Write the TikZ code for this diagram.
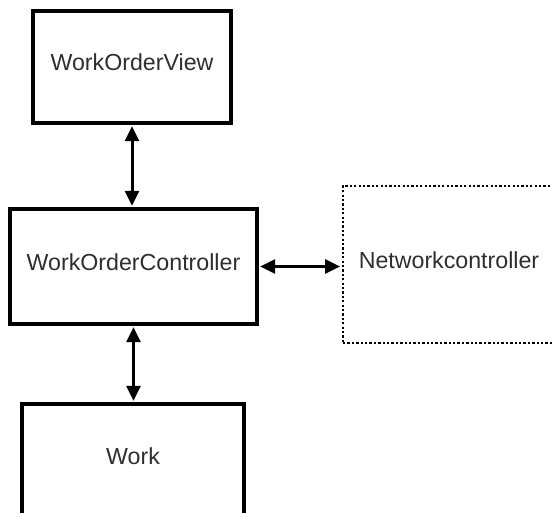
\documentclass[tikz,border=0pt]{standalone}
\usepackage{fontspec}
\setmainfont{Liberation Sans}
\usetikzlibrary{arrows.meta}
\begin{document}
\begin{tikzpicture}[x=1pt,y=-1pt,
  box/.style={draw=black,line width=3.2pt,fill=white,rectangle,inner sep=0pt,
    text=black!82,font=\fontsize{23.2}{27}\selectfont,
    text height=17pt,text depth=9pt},
  dottedbox/.style={box,line width=2.8pt,dash pattern=on 2.3pt off 2.1pt},
  link/.style={line width=3pt,{Triangle[length=15pt,width=14pt]}-{Triangle[length=15pt,width=14pt]},shorten <=1.6pt,shorten >=1.6pt}]
  \clip (0,0) rectangle (552,513);
  \fill[white] (0,0) rectangle (552,513);
  % components
  \node[box,minimum width=198pt,minimum height=112pt] (view) at (132,67) {WorkOrderView};
  \node[box,minimum width=247pt,minimum height=115pt] (ctrl) at (133.5,266.5) {WorkOrderController};
  \node[dottedbox,minimum width=212pt,minimum height=157pt] (net) at (449,264.5) {Networkcontroller};
  \node[box,minimum width=222pt,minimum height=112pt] (work) at (133,460) {Work};
  % connections
  \draw[link] (view.south) -- (view.south |- ctrl.north);
  \draw[link] (ctrl.south) -- (ctrl.south |- work.north);
  \draw[link] (ctrl.east) -- (ctrl.east -| net.west);
\end{tikzpicture}
\end{document}
